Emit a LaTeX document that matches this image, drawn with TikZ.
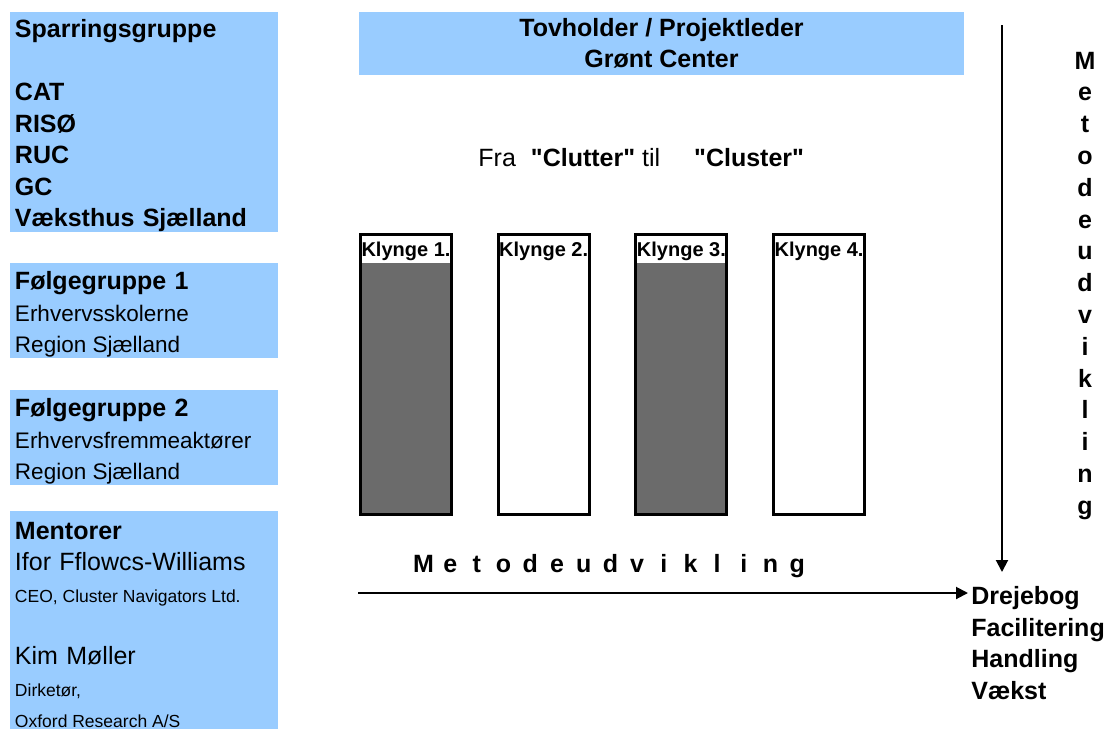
\documentclass[tikz,border=0pt]{standalone}
\usepackage{fontspec}
\setmainfont{Liberation Sans}[Ligatures=TeXOff]
\usetikzlibrary{positioning,arrows.meta}
\definecolor{groupblue}{HTML}{99CCFF}
\newcommand{\natspace}{\spaceskip=0pt\xspaceskip=0pt}
\newcommand{\bodysize}{\fontsize{12.5}{15.75}\selectfont\natspace}
\newcommand{\subsize}{\fontsize{11.25}{15.75}\selectfont\natspace}
\newcommand{\notesize}{\fontsize{8.75}{15.75}\selectfont\natspace}
\newcommand{\firstline}{\rule{0pt}{13pt}}
\tikzset{%
  groupbox/.style={fill=groupblue, inner xsep=2.5pt, inner ysep=0pt,
    text width=129pt, align=left, font=\bodysize},
  leadbox/.style={fill=groupblue, minimum width=302.5pt, minimum height=31.5pt,
    inner sep=0pt, align=center, font=\bodysize\bfseries},
  klynge/.style={draw, line width=1.5pt, minimum width=45.5pt, minimum height=140pt,
    inner sep=0pt,
    path picture={\fill[white] (path picture bounding box.north west)
      rectangle ([yshift=-14.25pt]path picture bounding box.north east);}},
  klyngetext/.style={anchor=base, inner sep=0pt, font=\fontsize{10}{12}\selectfont\bfseries},
  letter/.style={anchor=base, inner sep=0pt, font=\bodysize\bfseries},
  flow/.style={line width=1pt, -{Triangle[length=6pt,width=6pt]}}
}

\begin{document}
\begin{tikzpicture}[x=0.5pt, y=-0.5pt]
    \useasboundingbox (0,0) rectangle (1105,729);

    % groups on the left
    \node[groupbox, minimum height=110pt] (spar) at (144,122)
      {\bfseries\firstline Sparringsgruppe\\[15.75pt] CAT\\ RISØ\\ RUC\\ GC\\ Væksthus Sjælland};
    \node[groupbox, minimum height=47.5pt] (follow1) at (144,310.5)
      {{\bfseries\firstline Følgegruppe 1}\\ {\subsize Erhvervsskolerne}\\ {\subsize Region Sjælland}};
    \node[groupbox, minimum height=47.5pt] (follow2) at (144,437.5)
      {{\bfseries\firstline Følgegruppe 2}\\ {\subsize Erhvervsfremmeaktører}\\ {\subsize Region Sjælland}};
    \node[groupbox, minimum height=109.5pt] (mentor) at (144,620.5)
      {{\bfseries\firstline Mentorer}\\ Ifor Fflowcs-Williams\\ {\notesize CEO, Cluster Navigators Ltd.}\\[15.5pt]
       Kim Møller\\ {\notesize Dirketør,}\\ {\notesize Oxford Research A/S}};

    % lead and clusters
    \node[leadbox] (lead) at (661.5,43.5) {Tovholder / Projektleder\\Grønt Center};
    \node[anchor=base west, inner sep=0pt, font=\bodysize] (motto) at (478,166)
      {Fra\hspace{7.5pt}\textbf{"Clutter"} til\hspace{17pt}\textbf{"Cluster"}};

    \foreach \i/\f in {1/black!58, 2/white, 3/black!58, 4/white} {
      \node[klynge, fill=\f] (k\i) at (406+137.7*\i-137.7,374.5) {};
      \node[klyngetext] (kt\i) at (k\i.north |- 0,256) {Klynge \i.};
    }

    % method axis
    \foreach \c [count=\i from 0] in {M,e,t,o,d,e,u,d,v,i,k,l,i,n,g} {
      \node[letter] (h\i) at (423.5+26.7*\i,572) {\c};
      \node[letter] (v\i) at (1085,69+31.8*\i) {\c};
    }

    \node[anchor=north west, inner xsep=1.5pt, inner ysep=0pt, align=left,
      font=\bodysize\bfseries] (outcome) at (968,586)
      {Drejebog\\ Facilitering\\ Handling\\ Vækst};

    \coordinate (hstart) at (358,593);
    \coordinate (vstart) at (1002,25);
    \draw[flow] (hstart) -- (hstart -| outcome.west);
    \draw[flow, shorten >=7pt] (vstart) -- (vstart |- outcome.north);
\end{tikzpicture}
\end{document}
